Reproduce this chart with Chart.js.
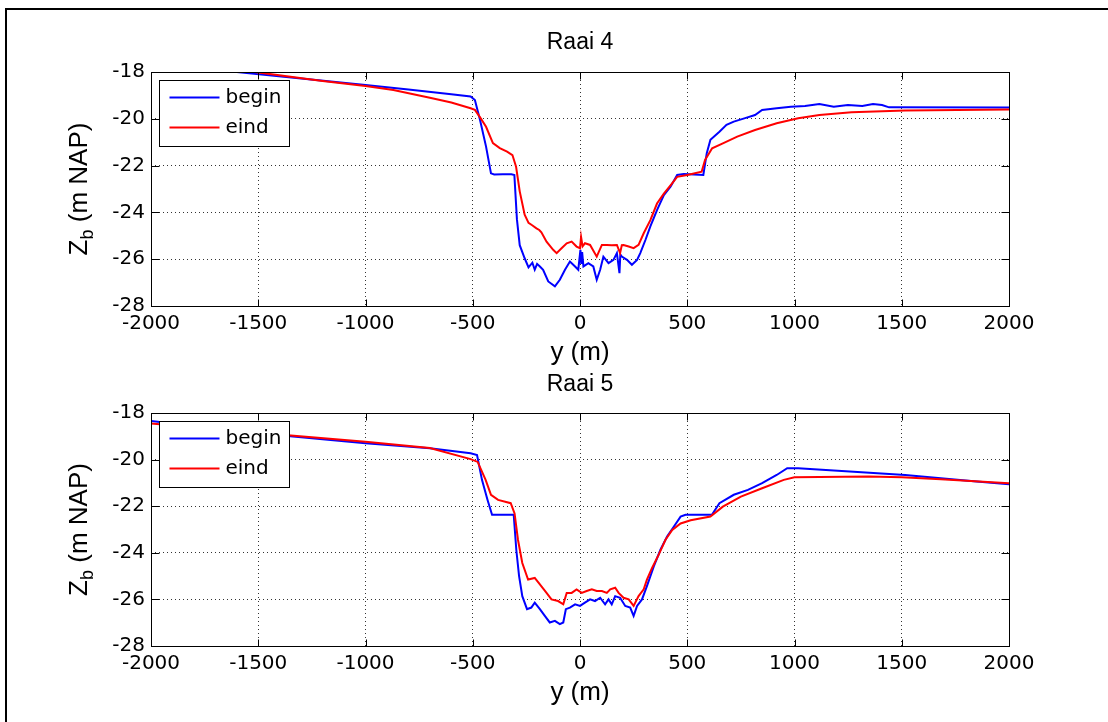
<!DOCTYPE html>
<html>
<head>
<meta charset="utf-8">
<title>Raai 4 en Raai 5</title>
<script src="https://cdn.jsdelivr.net/npm/chart.js@4.4.0/dist/chart.umd.min.js"></script>
<style>
    html, body { margin: 0; padding: 0; background: #fff; overflow: hidden; }
    #page { position: relative; width: 1108px; height: 722px; overflow: hidden; }
    #frame { position: absolute; left: 5px; top: 8px; width: 1200px; height: 800px; border: 2px solid #000; }
    canvas { position: absolute; left: 0; }
    #raai4Chart { top: 0; }
    #raai5Chart { top: 360px; }
</style>
</head>
<body>
<div id="page">
    <div id="frame"></div>
    <canvas id="raai4Chart" width="1108" height="370"></canvas>
    <canvas id="raai5Chart" width="1108" height="362"></canvas>
</div>
<script>
// Assen
const posTicks = [-2000, -1500, -1000, -500, 0, 500, 1000, 1500, 2000];
const zbTicks = [-28, -26, -24, -22, -20, -18];
const seriesLabels = ['begin', 'eind'];

// Raai 4 - begin
const raai4BeginPos = [-2000, -1600, -1300, -1000, -800, -600, -510, -490, -466, -438, -415, -400, -360, -320, -306,
    -294, -281, -258, -240, -222, -211, -200, -187, -172, -148, -117, -94, -70, -47, -23, -8, 2, 6, 10, 16,
    39, 62, 78, 94, 109, 133, 156, 172, 184, 188, 195, 219, 242, 266, 281, 305, 328, 359, 391, 422, 453, 484,
    575, 591, 608, 650, 683, 717, 766, 816, 849, 917, 983, 1049, 1116, 1183, 1249, 1316, 1366, 1408, 1441, 2000];
const raai4BeginZb = [-17.62, -18.0, -18.28, -18.56, -18.75, -18.95, -19.05, -19.2, -20.05, -21.19, -22.33, -22.38, -22.37, -22.37, -22.4,
    -24.3, -25.4, -25.96, -26.35, -26.15, -26.45, -26.2, -26.31, -26.45, -26.95, -27.16, -26.88, -26.45, -26.1, -26.31, -26.45, -25.6, -26.2, -25.7, -26.31,
    -26.17, -26.31, -26.88, -26.45, -25.89, -26.17, -26.03, -25.74, -26.6, -25.8, -25.89, -26.03, -26.24, -26.03, -25.74, -25.18, -24.6, -23.9, -23.26, -22.9, -22.4, -22.36,
    -22.4, -21.47, -20.9, -20.55, -20.26, -20.12, -19.98, -19.84, -19.62, -19.55, -19.48, -19.45, -19.37, -19.48, -19.41, -19.45, -19.37, -19.41, -19.51, -19.52];

// Raai 4 - eind
const raai4EindPos = [-2000, -1500, -1200, -1000, -870, -700, -600, -510, -490, -465, -438, -406, -374, -340, -315, -298,
    -281, -258, -240, -223, -203, -190, -180, -156, -125, -109, -86, -62, -39, -16, 0, 5, 12, 23, 47, 78, 102,
    125, 148, 172, 187, 195, 203, 227, 250, 273, 297, 328, 359, 391, 422, 453, 500, 567, 583, 616, 666, 733,
    816, 917, 1017, 1116, 1266, 1516, 2000];
const raai4EindZb = [-17.45, -18.02, -18.38, -18.6, -18.77, -19.1, -19.3, -19.55, -19.62, -19.95, -20.34, -21.04, -21.25, -21.4, -21.55, -22.05,
    -23.1, -24.1, -24.45, -24.55, -24.68, -24.75, -24.85, -25.25, -25.6, -25.74, -25.53, -25.32, -25.25, -25.46, -25.53, -25.05, -25.45, -25.32, -25.39, -25.89, -25.39,
    -25.39, -25.4, -25.39, -25.74, -25.4, -25.39, -25.46, -25.53, -25.39, -24.89, -24.33, -23.62, -23.2, -22.84, -22.48, -22.4, -22.26, -21.76, -21.26, -21.05, -20.76,
    -20.48, -20.19, -19.98, -19.84, -19.72, -19.65, -19.6];

// Raai 5 - begin
const raai5BeginPos = [-2000, -1500, -1000, -700, -510, -480, -457, -431, -410, -309, -297, -284, -269, -247, -227, -211,
    -187, -164, -141, -117, -94, -78, -66, -47, -23, 0, 23, 47, 70, 94, 117, 133, 148, 164, 187, 211, 234, 250,
    266, 289, 312, 344, 375, 406, 437, 469, 492, 615, 650, 717, 783, 849, 917, 966, 1017, 1516, 1849, 2000];
const raai5BeginZb = [-18.34, -18.87, -19.3, -19.51, -19.73, -19.8, -20.87, -21.73, -22.37, -22.37, -23.87, -25.0, -25.86, -26.42, -26.35, -26.14,
    -26.42, -26.71, -26.99, -26.92, -27.06, -26.99, -26.42, -26.35, -26.21, -26.28, -26.14, -26.0, -26.07, -25.93, -26.21, -26.0, -26.21, -25.86, -25.93, -26.28, -26.35, -26.71,
    -26.28, -26.0, -25.43, -24.58, -23.87, -23.3, -22.88, -22.45, -22.37, -22.37, -21.87, -21.51, -21.3, -21.01, -20.66, -20.37, -20.37, -20.66, -20.94, -21.06];

// Raai 5 - eind
const raai5EindPos = [-2000, -1500, -1000, -700, -510, -477, -440, -415, -382, -323, -305, -289, -269, -242, -211, -187,
    -156, -133, -102, -78, -62, -39, -16, 8, 31, 55, 78, 102, 125, 141, 164, 180, 203, 227, 250, 273, 297, 312,
    336, 367, 398, 430, 469, 516, 608, 666, 750, 849, 950, 1000, 1347, 1500, 1682, 2000];
const raai5EindZb = [-18.45, -18.85, -19.23, -19.5, -19.98, -20.1, -20.87, -21.51, -21.73, -21.87, -22.31, -23.45, -24.44, -25.15, -25.08, -25.36,
    -25.72, -26.0, -26.07, -26.21, -25.72, -25.72, -25.57, -25.72, -25.64, -25.57, -25.64, -25.64, -25.72, -25.57, -25.5, -25.72, -25.93, -26.0, -26.28, -25.86, -25.57, -25.15,
    -24.65, -24.08, -23.45, -23.02, -22.74, -22.6, -22.44, -22.02, -21.59, -21.23, -20.87, -20.76, -20.73, -20.76, -20.84, -21.01];

const tickFont = { family: '"DejaVu Sans", sans-serif', size: 20 };
const labelFamily = '"Liberation Sans", Arial, sans-serif';

function toPoints(pos, zb) {
    return pos.map((p, i) => ({ x: p, y: zb[i] }));
}

// kader, tick-streepjes binnen de as, legenda en y-label (Z met subscript b)
const matlabLook = {
    id: 'matlabLook',
    afterDatasetsDraw(chart) {
        const { ctx, chartArea: a, scales: { x, y } } = chart;
        ctx.save();
        ctx.strokeStyle = '#000';
        ctx.lineWidth = 1;
        ctx.setLineDash([]);
        const l = Math.round(a.left) + 0.5, r = Math.round(a.right) + 0.5;
        const t = Math.round(a.top) + 0.5, b = Math.round(a.bottom) + 0.5;
        ctx.strokeRect(l, t, r - l, b - t);
        ctx.beginPath();
        x.ticks.forEach(tk => {
            const px = Math.round(x.getPixelForValue(tk.value)) + 0.5;
            ctx.moveTo(px, b); ctx.lineTo(px, b - 7);
            ctx.moveTo(px, t); ctx.lineTo(px, t + 7);
        });
        y.ticks.forEach(tk => {
            const py = Math.round(y.getPixelForValue(tk.value)) + 0.5;
            ctx.moveTo(l, py); ctx.lineTo(l + 8, py);
            ctx.moveTo(r, py); ctx.lineTo(r - 8, py);
        });
        ctx.stroke();

        // legenda
        const lx = Math.round(a.left) + 8.5, ly = Math.round(a.top) + 8.5;
        ctx.fillStyle = '#fff';
        ctx.fillRect(lx, ly, 130, 66);
        ctx.strokeRect(lx, ly, 130, 66);
        ctx.font = `${tickFont.size}px ${tickFont.family}`;
        ctx.textBaseline = 'middle';
        ctx.textAlign = 'left';
        const ordered = chart.data.datasets.slice().sort((p, q) => seriesLabels.indexOf(p.label) - seriesLabels.indexOf(q.label));
        ordered.forEach((ds, i) => {
            const rowY = ly + 17 + i * 30;
            ctx.strokeStyle = ds.borderColor;
            ctx.lineWidth = 2;
            ctx.beginPath();
            ctx.moveTo(lx + 10, rowY); ctx.lineTo(lx + 60, rowY);
            ctx.stroke();
            ctx.fillStyle = '#000';
            ctx.fillText(ds.label, lx + 66, rowY);
        });

        // y-label
        const cy = (a.top + a.bottom) / 2;
        ctx.translate(80, cy);
        ctx.rotate(-Math.PI / 2);
        ctx.fillStyle = '#000';
        ctx.textBaseline = 'middle';
        const big = `26px ${labelFamily}`, small = `18px ${labelFamily}`;
        ctx.font = big;
        const wZ = ctx.measureText('Z').width, wRest = ctx.measureText(' (m NAP)').width;
        ctx.font = small;
        const wb = ctx.measureText('b').width;
        const start = -(wZ + wb + wRest) / 2;
        ctx.font = big; ctx.fillText('Z', start, 0);
        ctx.font = small; ctx.fillText('b', start + wZ, 8);
        ctx.font = big; ctx.fillText(' (m NAP)', start + wZ + wb, 0);
        ctx.restore();
    }
};

function makeChart(canvasId, titleText, beginData, eindData, lay) {
    return new Chart(document.getElementById(canvasId).getContext('2d'), {
        type: 'line',
        data: {
            datasets: [
                { label: seriesLabels[0], data: beginData, borderColor: '#0000ff', order: 2 },
                { label: seriesLabels[1], data: eindData, borderColor: '#ff0000', order: 1 }
            ]
        },
        options: {
            responsive: false,
            animation: false,
            devicePixelRatio: 1,
            layout: { padding: { left: 0, right: 99, top: 0, bottom: 0 } },
            elements: {
                line: { tension: 0, borderWidth: 2, fill: false },
                point: { radius: 0, hoverRadius: 0 }
            },
            plugins: {
                legend: { display: false },
                tooltip: { enabled: false },
                title: {
                    display: true,
                    text: titleText,
                    fullSize: false,
                    color: '#000',
                    font: { family: labelFamily, size: 23, weight: 'normal', lineHeight: 1.2 },
                    padding: { top: lay.titleTop, bottom: lay.titleBottom }
                }
            },
            scales: {
                x: {
                    type: 'linear',
                    min: -2000, max: 2000,
                    afterBuildTicks: s => { s.ticks = posTicks.map(v => ({ value: v })); },
                    afterFit: s => { s.height = lay.xHeight; },
                    ticks: { font: tickFont, color: '#000', padding: 6, maxRotation: 0, autoSkip: false, callback: v => String(v) },
                    grid: { color: '#333', lineWidth: 1, drawTicks: false },
                    border: { display: false, dash: [1, 3] },
                    title: {
                        display: true, text: 'y (m)', color: '#000',
                        font: { family: labelFamily, size: 26, weight: 'normal', lineHeight: 1.2 },
                        padding: { top: 0, bottom: lay.xTitleBottom }
                    }
                },
                y: {
                    type: 'linear',
                    min: -28, max: -18,
                    afterBuildTicks: s => { s.ticks = zbTicks.map(v => ({ value: v })); },
                    afterFit: s => { s.width = 151; },
                    ticks: { font: tickFont, color: '#000', padding: 6, autoSkip: false, callback: v => String(v) },
                    grid: { color: '#333', lineWidth: 1, drawTicks: false },
                    border: { display: false, dash: [1, 3] }
                }
            }
        },
        plugins: [matlabLook]
    });
}

makeChart('raai4Chart', 'Raai 4', toPoints(raai4BeginPos, raai4BeginZb), toPoints(raai4EindPos, raai4EindZb),
    { titleTop: 29.2, titleBottom: 15.2, xHeight: 64, xTitleBottom: 1.4 });
makeChart('raai5Chart', 'Raai 5', toPoints(raai5BeginPos, raai5BeginZb), toPoints(raai5EindPos, raai5EindZb),
    { titleTop: 11.2, titleBottom: 14.2, xHeight: 76, xTitleBottom: 13.4 });
</script>
</body>
</html>
